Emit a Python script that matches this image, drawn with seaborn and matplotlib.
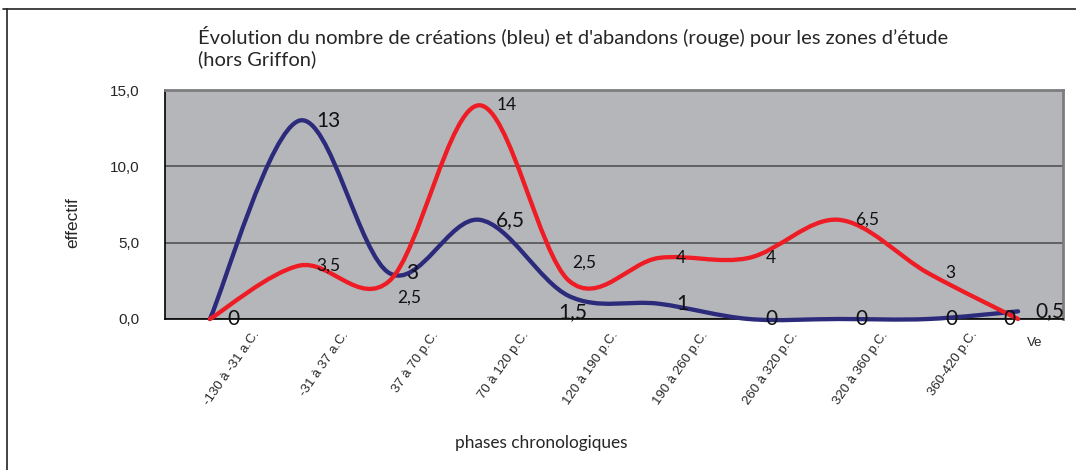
import numpy as np
import matplotlib
matplotlib.use("Agg")
import matplotlib.pyplot as plt
import matplotlib.transforms as mtransforms
from matplotlib.path import Path
from matplotlib.patches import PathPatch
from matplotlib.lines import Line2D
import seaborn as sns

# ---- data ----
categories = ["-130 à -31 a.C.", "-31 à 37 a.C.", "37 à 70 p.C.", "70 à 120 p.C.",
              "120 à 190 p.C.", "190 à 260 p.C.", "260 à 320 p.C.", "320 à 360 p.C.",
              "360-420 p.C.", "Ve"]
creations = [0, 13, 3, 6.5, 1.5, 1, 0, 0, 0, 0.5]      # bleu
abandons = [0, 3.5, 2.5, 14, 2.5, 4, 4, 6.5, 3, 0]     # rouge
y_ticks = [0, 5, 10, 15]
y_tick_labels = ["0,0", "5,0", "10,0", "15,0"]
title = "Évolution du nombre de créations (bleu) et d'abandons (rouge) pour les zones d’étude\n(hors Griffon)"
x_title = "phases chronologiques"
y_title = "effectif"

BLUE = "#2c2a7a"
RED = "#ee1c25"

sns.set_theme(style="white")
plt.rcParams['font.family'] = ['Liberation Sans', 'DejaVu Sans']
LABEL_FONT = ['Lato', 'DejaVu Sans']

W, H = 1076, 470
fig = plt.figure(figsize=(W / 100, H / 100), dpi=100)
ax = fig.add_axes([165 / W, 1 - 319 / H, (1063 - 165) / W, (319 - 90) / H])
ax.set_facecolor('#b5b6ba')

x = np.arange(len(categories))
ax.set_xlim(-0.5, len(categories) - 0.5)
ax.set_ylim(0, 15)


def smooth_path(xs, ys):
    pts = np.column_stack([xs, ys]).astype(float)
    n = len(pts)
    verts = [pts[0]]
    codes = [Path.MOVETO]
    for i in range(n - 1):
        p0 = pts[i - 1] if i > 0 else pts[i]
        p1 = pts[i]
        p2 = pts[i + 1]
        p3 = pts[i + 2] if i + 2 < n else pts[i + 1]
        c1 = p1 + (p2 - p0) / 6.0
        c2 = p2 - (p3 - p1) / 6.0
        verts += [c1, c2, p2]
        codes += [Path.CURVE4] * 3
    return Path(verts, codes)


# grid
ax.set_yticks(y_ticks)
ax.set_yticklabels(y_tick_labels, fontsize=11)
ax.grid(axis='y', color='#4a4a4a', linewidth=1.1)
ax.set_axisbelow(True)

for series, color in [(creations, BLUE), (abandons, RED)]:
    patch = PathPatch(smooth_path(x, series), facecolor='none', edgecolor=color,
                      linewidth=3.1, capstyle='round', joinstyle='round',
                      transform=ax.transData, zorder=3, clip_on=False)
    ax.add_patch(patch)


def fmt(v):
    return f"{v:g}".replace('.', ',')


PX = 0.72  # px -> points
# default: label to the right of the point, vertically centred
special = {
    ('r', 2): (8, -17),
    ('r', 4): (3, 18),
    ('b', 4): (-11, -16),
    ('r', 9): (-15, 0),
}
for key, series, size in [('b', creations, 15), ('r', abandons, 12.5)]:
    for i, v in enumerate(series):
        if key == 'r' and i == 0:
            continue  # hidden under the blue "0"
        dx, dy = special.get((key, i), (17, 0))
        fs = size
        if key == 'r' and v == 0:
            fs = 15
        ax.annotate(fmt(v), (x[i], v), xytext=(dx * PX, dy * PX), textcoords='offset points',
                    ha='left', va='center', fontsize=fs, family=LABEL_FONT,
                    color='#111111', zorder=5, annotation_clip=False)

# x ticks at category boundaries
ax.set_xticks(np.arange(-0.5, len(categories), 1.0))
ax.set_xticklabels([])
ax.tick_params(axis='x', which='major', direction='out', length=5.5, width=1.0, color='black')
ax.tick_params(axis='y', which='major', direction='out', length=6.5, width=1.0, color='black', pad=12)

trans = mtransforms.blended_transform_factory(ax.transData, ax.transAxes)
for i, lab in enumerate(categories):
    if lab == "Ve":
        off = mtransforms.ScaledTranslation(17 / 100, -24 / 100, fig.dpi_scale_trans)
        ax.text(i, 0, lab, transform=trans + off, ha='center', va='center', fontsize=9.5)
    else:
        off = mtransforms.ScaledTranslation(42 / 100, -10 / 100, fig.dpi_scale_trans)
        ax.text(i, 0, lab, transform=trans + off, ha='right', va='top', rotation=55,
                rotation_mode='anchor', fontsize=9.5)

for side in ['left', 'bottom']:
    ax.spines[side].set_color('black')
    ax.spines[side].set_linewidth(1.2)
for side in ['top', 'right']:
    ax.spines[side].set_color('#7d7d7f')
    ax.spines[side].set_linewidth(2)

fig.text(73 / W, 1 - 223 / H, y_title, rotation=90, ha='center', va='center', fontsize=12.5)
fig.text(541 / W, 1 - 443 / H, x_title, ha='center', va='center', fontsize=12.4, family=LABEL_FONT)
fig.text(198 / W, 1 - 47 / H, title, ha='left', va='center', fontsize=14.5, family=LABEL_FONT,
         linespacing=1.25)

# outer frame
fig.add_artist(Line2D([3 / W, 1.0], [1 - 9 / H, 1 - 9 / H], transform=fig.transFigure,
                      color='#222222', linewidth=1.2))
fig.add_artist(Line2D([7 / W, 7 / W], [0, 1 - 9 / H], transform=fig.transFigure,
                      color='#222222', linewidth=1.2))

fig.savefig("out.png", dpi=100)
